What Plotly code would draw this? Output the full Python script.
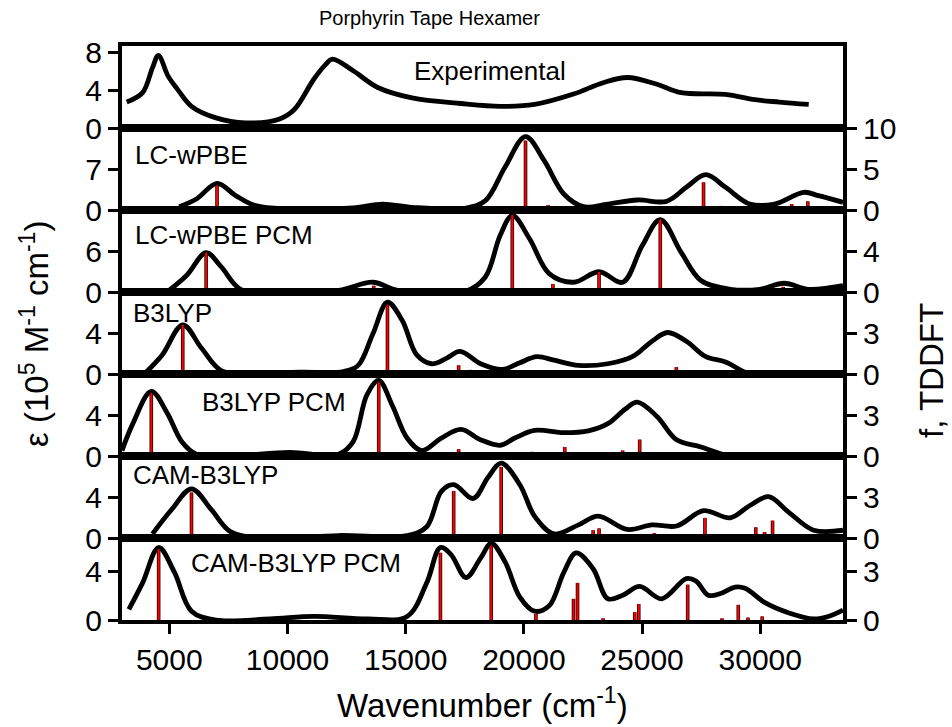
import plotly.graph_objects as go

# ---------------- data ----------------
x_ticks = [5000, 10000, 15000, 20000, 25000, 30000]

exp_wn = [3200, 3870, 4290, 4540, 4950, 5350, 5940, 6980, 8220, 9670, 10290, 11120, 11600, 11900,
          12780, 13820, 15270, 17340, 19000, 20450, 22100, 23350, 24380, 25630, 26660, 28530,
          29770, 30810, 32050]
exp_eps = [2.75, 3.75, 6.4, 7.7, 5.5, 4.1, 2.3, 1.07, 0.54, 0.96, 1.96, 5.2, 6.7, 7.3,
           6.07, 4.3, 3.2, 2.6, 2.3, 2.5, 3.6, 4.8, 5.36, 4.64, 3.75, 3.57,
           3.0, 2.75, 2.5]

lc_wn = [5420, 6150, 7020, 7810, 8640, 10090, 12780, 14020, 15270, 17550, 18370, 19200, 20070,
         20860, 21690, 22520, 23550, 24800, 26040, 26870, 27700, 28530, 29560, 30600, 31840,
         32460, 33500]
lc_eps = [0.57, 1.88, 4.55, 2.45, 0.74, 0.17, 0.34, 1.02, 0.46, 0.34, 1.59, 7.29, 12.52,
          8.42, 2.73, 0.57, 1.02, 1.71, 1.48, 3.87, 6.03, 3.87, 1.02, 1.02, 3.02,
          2.45, 1.31]
lc_st_wn = [7020, 13980, 20070, 21030, 24690, 24900, 26450, 27600, 28320, 28840, 31330, 32010]
lc_st_f = [2.97, 0.33, 8.46, 0.6, 0.5, 0.3, 0.5, 3.37, 0.5, 0.3, 0.73, 1.06]

lcp_wn = [4910, 5740, 6560, 7190, 8010, 9260, 12160, 13610, 14650, 17550, 18370, 19000, 19510,
          20240, 21070, 22100, 23180, 24180, 25010, 25770, 26660, 27490, 28730, 29980, 31010,
          32050, 33500]
lcp_eps = [0.0, 2.45, 5.76, 3.7, 0.4, 0.0, 0.25, 1.43, 0.25, 0.15, 2.2, 8.3, 11.2,
           7.8, 2.7, 1.43, 2.96, 1.43, 6.8, 10.6, 5.76, 1.68, 0.4, 0.4, 1.28,
           0.4, 0.92]
lcp_st_wn = [6560, 13650, 19510, 21230, 23180, 25770, 27600, 30970]
lcp_st_f = [3.84, 0.61, 7.5, 0.78, 1.97, 7.07, 0.27, 0.5]

b3_wn = [3970, 4700, 5570, 6360, 7190, 8430, 10500, 12370, 12990, 13610, 14230, 14850, 15470,
         16100, 16720, 17300, 18170, 19100, 19830, 20550, 21280, 22310, 23550, 24590, 25420,
         26080, 26870, 27700, 28530, 29560, 30810]
b3_eps = [0.07, 1.86, 4.8, 2.53, 0.34, 0.0, 0.17, 0.24, 0.84, 3.9, 7.0, 5.24, 1.86,
          1.0, 1.52, 2.2, 1.0, 0.44, 1.1, 1.69, 1.35, 0.84, 1.0, 1.69, 3.2,
          4.05, 3.2, 1.69, 1.18, 0.0, 0.0]
b3_st_wn = [5570, 14230, 17240, 17750, 20400, 25630, 26450]
b3_st_f = [3.6, 5.06, 0.63, 0.3, 0.13, 0.2, 0.5]

b3p_wn = [3000, 3460, 4240, 4910, 5530, 6150, 7600, 10090, 12160, 12780, 13360, 13860, 14440,
          15060, 15680, 16510, 17340, 18170, 19000, 19620, 20450, 21690, 22730, 23550, 24280,
          24800, 25630, 26460, 27490, 28730, 30810]
b3p_eps = [0.53, 3.16, 6.3, 4.2, 1.4, 0.18, 0.0, 0.35, 0.18, 1.4, 5.96, 7.37, 4.9,
           1.75, 0.53, 1.75, 2.6, 1.58, 1.05, 1.75, 2.5, 2.28, 2.46, 3.16, 4.56,
           5.26, 3.86, 1.58, 0.88, 0.0, 0.0]
b3p_st_wn = [4240, 13860, 17070, 17240, 17550, 18540, 19930, 20340, 20510, 21730, 22830,
             23240, 24180, 24450, 24900, 25170]
b3p_st_f = [4.6, 5.4, 0.26, 0.5, 0.18, 0.18, 0.18, 0.3, 0.26, 0.66, 0.13,
            0.13, 0.4, 0.26, 1.2, 0.13]

cam_wn = [4290, 5110, 5940, 6770, 7600, 9050, 12160, 15060, 15890, 16510, 17030, 17860, 18480,
          19040, 19830, 20450, 21280, 22310, 23140, 24380, 25420, 26460, 27600, 28730, 29560,
          30350, 31220, 32260, 33500]
cam_eps = [0.4, 2.8, 4.8, 2.8, 0.6, 0.0, 0.24, 0.24, 1.1, 4.55, 5.2, 3.86, 5.9,
           7.3, 5.2, 2.14, 0.4, 1.28, 2.14, 0.83, 1.28, 1.17, 2.66, 1.97, 3.17,
           4.03, 2.48, 0.76, 0.76]
cam_st_wn = [5940, 17030, 19040, 22930, 23180, 23450, 25320, 25520, 27660, 28320, 29460,
             29810, 30180, 30520, 31430]
cam_st_f = [3.33, 3.44, 5.2, 0.57, 0.7, 0.26, 0.26, 0.36, 1.47, 0.18, 0.18,
            0.78, 0.44, 1.27, 0.18]

camp_wn = [3290, 3870, 4550, 5220, 5940, 6980, 9260, 11120, 13400, 15060, 15890, 16470, 16920,
           17550, 18170, 18620, 19200, 19830, 20450, 21070, 21690, 22210, 22930, 23550, 24180,
           24900, 25830, 26870, 27280, 27800, 28320, 28940, 29360, 30180, 31220, 32260, 32880,
           33500]
camp_eps = [0.87, 3.04, 5.94, 3.9, 0.72, 0.0, 0.09, 0.29, 0.09, 0.29, 3.04, 5.94, 5.36,
            3.48, 5.07, 6.29, 4.78, 1.88, 0.72, 1.16, 3.91, 5.5, 4.2, 1.74, 2.03,
            2.75, 1.74, 3.39, 3.19, 2.03, 2.17, 2.7, 2.6, 1.45, 0.58, 0.09, 0.29,
            0.81]
camp_st_wn = [4550, 16470, 18620, 20510, 22100, 22270, 23350, 24690, 24860, 26930, 28380,
              29070, 29480, 30080]
camp_st_f = [4.35, 4.13, 4.57, 0.37, 1.3, 2.28, 0.1, 0.48, 0.98, 2.17, 0.1,
             0.93, 0.15, 0.22]

labels = ["Experimental", "LC-wPBE", "LC-wPBE PCM", "B3LYP", "B3LYP PCM", "CAM-B3LYP",
          "CAM-B3LYP PCM"]
left_ticks = [[0, 4, 8], [0, 7], [0, 6], [0, 4], [0, 4], [0, 4], [0, 4]]
right_ticks = [None, [0, 5, 10], [0, 4], [0, 3], [0, 3], [0, 3], [0, 3]]

# ---------------- layout helpers ----------------
left_range = [8.7, 14, 12, 8, 8, 8, 6.72]
right_range = [None, 10, 8, 6, 6, 6, 5.04]
label_x = [0.402, 0.015, 0.015, 0.012, 0.108, 0.012, 0.093]
label_r = [0.306, 0.329, 0.306, 0.262, 0.342, 0.237, 0.304]

curves = [(exp_wn, exp_eps), (lc_wn, lc_eps), (lcp_wn, lcp_eps), (b3_wn, b3_eps),
          (b3p_wn, b3p_eps), (cam_wn, cam_eps), (camp_wn, camp_eps)]
sticks = [None, (lc_st_wn, lc_st_f), (lcp_st_wn, lcp_st_f), (b3_st_wn, b3_st_f),
          (b3p_st_wn, b3p_st_f), (cam_st_wn, cam_st_f), (camp_st_wn, camp_st_f)]

FONT = "Arial, Liberation Sans, sans-serif"
TICKFONT = dict(family=FONT, size=30, color="black")
XR = [3000, 33500]


def ref(letter, k):
    return letter if k == 1 else f"{letter}{k}"


def key(letter, k):
    return f"{letter}axis" if k == 1 else f"{letter}axis{k}"


fig = go.Figure()
layout = {}
annotations = []

for i in range(7):
    k = i + 1
    d0, d1 = (6 - i) / 7, (7 - i) / 7
    xr, yr = ref("x", k), ref("y", k)

    wn, eps = curves[i]
    fig.add_trace(go.Scatter(x=wn, y=eps, mode="lines", xaxis=xr, yaxis=yr,
                             line=dict(color="black", width=4.8, shape="spline", smoothing=1.0),
                             showlegend=False, hoverinfo="skip"))

    xa = dict(domain=[0, 1], anchor=yr, range=XR, showline=True, mirror=True,
              linewidth=4, linecolor="black", showgrid=False, zeroline=False)
    if k == 7:
        xa.update(ticks="outside", ticklen=10, tickwidth=3, tickcolor="black",
                  tickvals=x_ticks, ticktext=[str(v) for v in x_ticks],
                  tickfont=TICKFONT, showticklabels=True)
    else:
        xa.update(showticklabels=False, ticks="")
    if k > 1:
        xa["matches"] = "x"
    layout[key("x", k)] = xa

    ya = dict(domain=[d0, d1], anchor=xr, range=[0, left_range[i]], tickvals=left_ticks[i],
              ticks="outside", ticklen=10, tickwidth=3, tickcolor="black",
              showline=True, linewidth=4, linecolor="black", showgrid=False, zeroline=False,
              tickfont=TICKFONT, mirror=(k == 1))
    layout[key("y", k)] = ya

    if sticks[i] is not None:
        sw, sf = sticks[i]
        r2 = ref("y", k + 7)
        xs, ys = [], []
        for w, f in zip(sw, sf):
            xs += [w, w, None]
            ys += [0, f, None]
        fig.add_trace(go.Scatter(x=xs, y=ys, mode="lines", xaxis=xr, yaxis=r2,
                                 line=dict(color="#200000", width=3.6),
                                 showlegend=False, hoverinfo="skip"))
        fig.add_trace(go.Scatter(x=xs, y=ys, mode="lines", xaxis=xr, yaxis=r2,
                                 line=dict(color="#ff0000", width=2.0),
                                 showlegend=False, hoverinfo="skip"))
        layout[key("y", k + 7)] = dict(
            overlaying=yr, side="right", anchor=xr, range=[0, right_range[i]],
            tickvals=right_ticks[i], ticks="outside", ticklen=10, tickwidth=3,
            tickcolor="black", showline=True, linewidth=4, linecolor="black",
            showgrid=False, zeroline=False, tickfont=TICKFONT)

    annotations.append(dict(text=labels[i], xref="paper", yref="paper",
                            x=label_x[i], y=d0 + (1 - label_r[i]) * (d1 - d0),
                            xanchor="left", yanchor="middle", showarrow=False,
                            font=dict(family=FONT, size=26, color="black")))

annotations += [
    dict(text="Porphyrin Tape Hexamer", xref="paper", yref="paper", x=0.427, y=1.049,
         xanchor="center", yanchor="middle", showarrow=False,
         font=dict(family=FONT, size=20, color="black")),
    dict(text="Wavenumber (cm<sup>-1</sup>)", xref="paper", yref="paper", x=0.5, y=-0.145,
         xanchor="center", yanchor="middle", showarrow=False,
         font=dict(family=FONT, size=33, color="black")),
    dict(text="ε (10<sup>5</sup> M<sup>-1</sup> cm<sup>-1</sup>)", xref="paper", yref="paper",
         x=-0.121, y=0.498, xanchor="center", yanchor="middle", textangle=-90, showarrow=False,
         font=dict(family=FONT, size=33, color="black")),
    dict(text="f, TDDFT", xref="paper", yref="paper", x=1.123, y=0.435,
         xanchor="center", yanchor="middle", textangle=-90, showarrow=False,
         font=dict(family=FONT, size=33, color="black")),
]

fig.update_layout(**layout)
fig.update_layout(width=952, height=727, margin=dict(l=122, r=109, t=46, b=107),
                  paper_bgcolor="white", plot_bgcolor="white", annotations=annotations,
                  showlegend=False, font=dict(family=FONT, color="black"))

fig.write_html("out.html", config={"displayModeBar": False},
               post_script="document.documentElement.style.margin='0';"
                           "document.body.style.margin='0';"
                           "document.body.style.overflow='hidden';")
